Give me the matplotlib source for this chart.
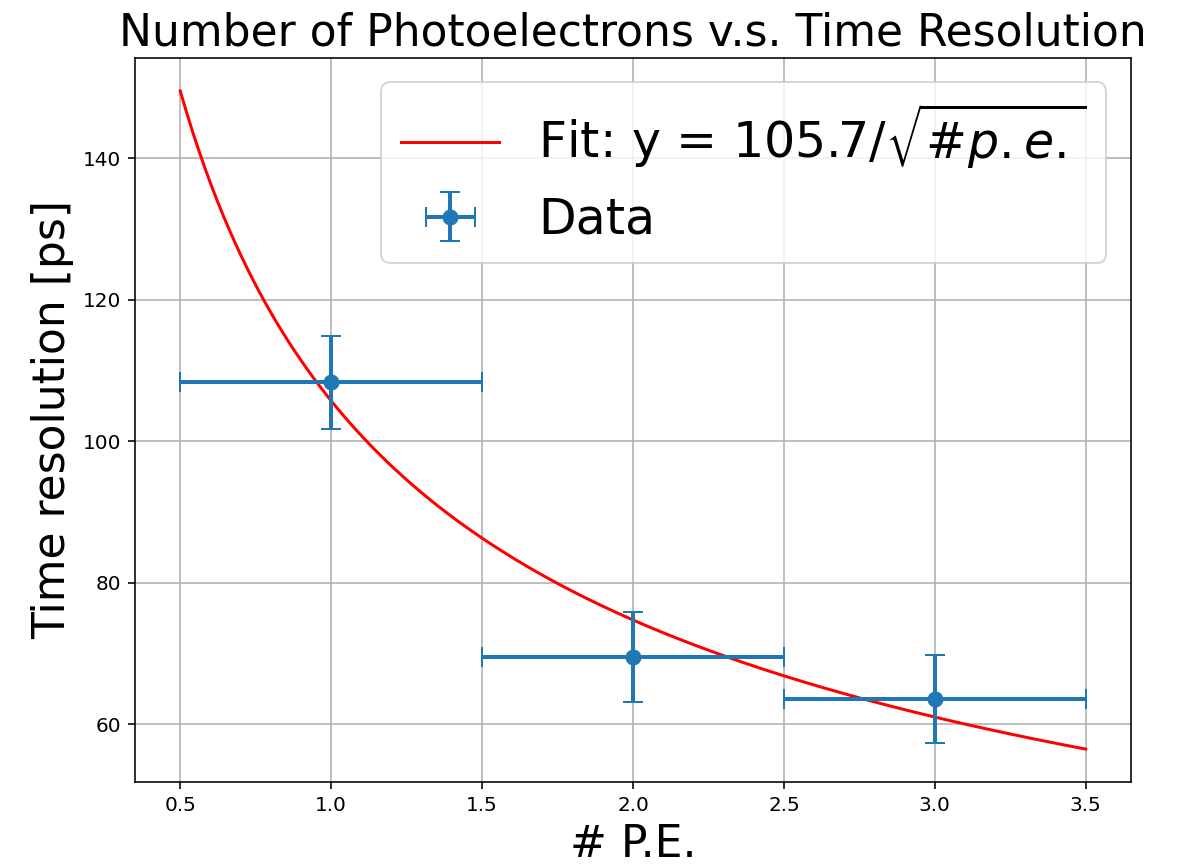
import numpy as np
import matplotlib
matplotlib.use("Agg")
import matplotlib.pyplot as plt

# measured time resolution per photoelectron count
n_pe = [1.0, 2.0, 3.0]
n_pe_err = [0.5, 0.5, 0.5]
time_res = [108.3, 69.5, 63.6]
time_res_err = [6.6, 6.3, 6.2]

# fit parameter: y = a / sqrt(n)
fit_a = 105.7
fit_range = [0.5, 3.5]

fig = plt.figure(figsize=(1186 / 144, 864 / 144), dpi=144)
ax = fig.add_axes([0.1138, 0.0949, 0.9536 - 0.1138, 0.9329 - 0.0949])

x_fit = np.linspace(fit_range[0], fit_range[1], 300)
ax.plot(x_fit, fit_a / np.sqrt(x_fit), color="red",
        label=r"Fit: y = %.1f/$\sqrt{\mathrm{\#}p.e.}$" % fit_a)
ax.errorbar(n_pe, time_res, xerr=n_pe_err, yerr=time_res_err,
            fmt="o", markersize=7, elinewidth=2, capsize=5, label="Data")

ax.set_title("Number of Photoelectrons v.s. Time Resolution", fontsize=22)
ax.set_xlabel("# P.E.", fontsize=22)
ax.set_ylabel("Time resolution [ps]", fontsize=22)
ax.grid(True)
ax.legend(fontsize=24.5, loc="upper right")

fig.savefig("out.png", dpi=144)
